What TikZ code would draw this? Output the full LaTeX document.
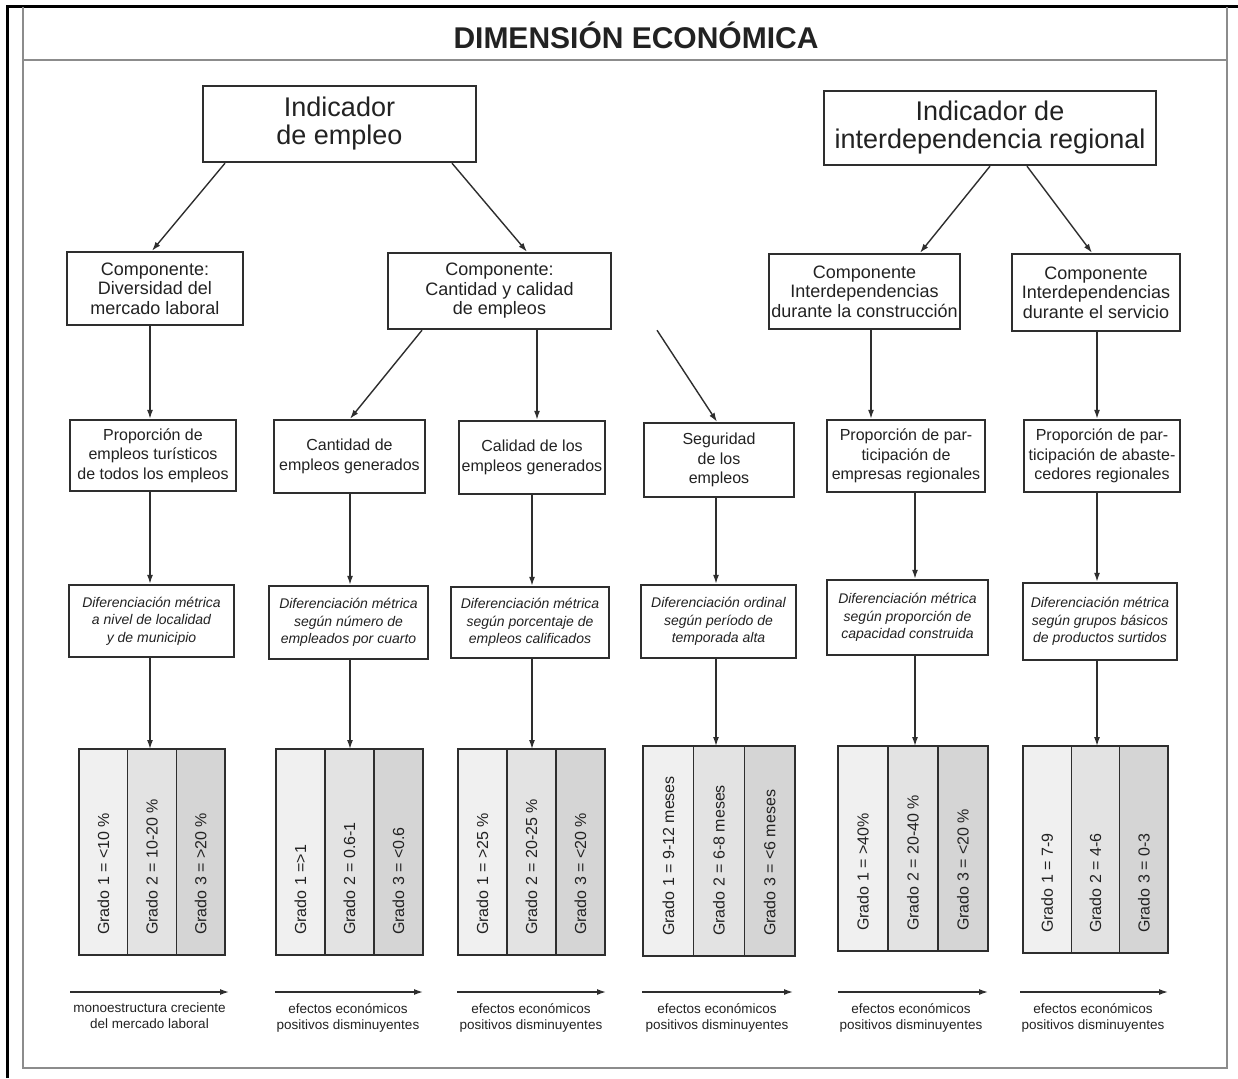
\documentclass[tikz,border=0pt]{standalone}
\usepackage{fontspec}
\setmainfont{Liberation Sans}
\usetikzlibrary{arrows.meta,calc}
\definecolor{ink}{HTML}{222222}
\definecolor{boxline}{HTML}{2E2E2E}
\definecolor{frameg}{HTML}{8C8C8C}
\definecolor{shA}{HTML}{F0F0F0}
\definecolor{shB}{HTML}{E3E3E3}
\definecolor{shC}{HTML}{D5D5D5}
\newcommand\gradeset[8]{%
  \pgfmathsetmacro\gcw{#4/3}%
  \node[gcol,fill=shA,minimum width=\gcw,minimum height=#5,anchor=north west] (#1a) at (#2,#3) {};
  \node[gcol,fill=shB,minimum width=\gcw,minimum height=#5,anchor=north west] (#1b) at (#1a.north east) {};
  \node[gcol,fill=shC,minimum width=\gcw,minimum height=#5,anchor=north west] (#1c) at (#1b.north east) {};
  \draw[gframe] (#1a.north west) rectangle (#1c.south east);
  \node[gtext] (#1ta) at ([yshift=20pt]#1a.south) {#6};
  \node[gtext] (#1tb) at ([yshift=20pt]#1b.south) {#7};
  \node[gtext] (#1tc) at ([yshift=20pt]#1c.south) {#8};
}
\begin{document}
\begin{tikzpicture}[x=1pt,y=-1pt,
  box/.style={draw=boxline,line width=2.4pt,fill=white,text=ink,align=center,inner sep=1pt},
  indbox/.style={box,font=\fontsize{27}{28}\selectfont},
  compbox/.style={box,font=\fontsize{18}{19.5}\selectfont},
  propbox/.style={box,font=\fontsize{16}{19.5}\selectfont},
  difbox/.style={box,font=\fontsize{14}{17.5}\selectfont\itshape},
  gcol/.style={draw=boxline,line width=1.3pt,inner sep=0pt,outer sep=0pt},
  gframe/.style={draw=boxline,line width=2pt},
  gtext/.style={rotate=90,anchor=west,font=\fontsize{16}{18}\selectfont,text=ink,inner sep=0pt},
  lab/.style={align=center,text=ink,font=\fontsize{13.5}{16}\selectfont,inner sep=1pt},
  arr/.style={draw=boxline,line width=1.4pt,-{Latex[length=9pt,width=6pt]}}
]
\useasboundingbox[fill=white] (0,0) rectangle (1238,1078);
% frame
\draw[black,line width=3pt] (7,1078) -- (7,7) -- (1238,7);
\draw[frameg,line width=2.5pt] (23,7) -- (23,1068) -- (1227,1068) -- (1227,7);
\draw[frameg,line width=2.5pt] (23,60) -- (1227,60);
\node[font=\fontsize{30}{32}\selectfont\bfseries,text=ink] (title) at (636,35) {DIMENSIÓN ECONÓMICA};

% column coordinates
\coordinate (x1) at (150,0);
\coordinate (x2) at (350,0);
\coordinate (x3a) at (537,0);
\coordinate (x3) at (532,0);
\coordinate (x4) at (716,0);
\coordinate (x5a) at (871,0);
\coordinate (x5) at (915,0);
\coordinate (x6) at (1097,0);

% indicators
\node[indbox,minimum width=273,minimum height=76] (IE) at (339.5,124) {Indicador\\de empleo};
\node[indbox,minimum width=332,minimum height=74] (IR) at (990,128) {Indicador de\\interdependencia regional};

% components
\node[compbox,minimum width=176,minimum height=73] (C1) at (155,288.5) {Componente:\\Diversidad del\\mercado laboral};
\node[compbox,minimum width=223,minimum height=76] (C2) at (499.5,291) {Componente:\\Cantidad y calidad\\de empleos};
\node[compbox,minimum width=191,minimum height=75] (C3) at (864.5,291.5) {Componente\\Interdependencias\\durante la construcción};
\node[compbox,minimum width=168,minimum height=77] (C4) at (1096,292.5) {Componente\\Interdependencias\\durante el servicio};

% proportions
\node[propbox,minimum width=166,minimum height=71] (P1) at (153,455.5) {Proporción de\\empleos turísticos\\de todos los empleos};
\node[propbox,minimum width=151,minimum height=73] (P2) at (349.5,456.5) {Cantidad de\\empleos generados};
\node[propbox,minimum width=146,minimum height=73] (P3) at (532,457.5) {Calidad de los\\empleos generados};
\node[propbox,minimum width=150,minimum height=74] (P4) at (719,460) {Seguridad\\de los\\empleos};
\node[propbox,minimum width=158,minimum height=72] (P5) at (906,456) {Proporción de par-\\ticipación de\\empresas regionales};
\node[propbox,minimum width=156,minimum height=72] (P6) at (1102,456) {Proporción de par-\\ticipación de abaste-\\cedores regionales};

% differentiation
\node[difbox,minimum width=165,minimum height=72] (D1) at (151.5,621) {Diferenciación métrica\\a nivel de localidad\\y de municipio};
\node[difbox,minimum width=159,minimum height=73] (D2) at (348.5,622.5) {Diferenciación métrica\\según número de\\empleados por cuarto};
\node[difbox,minimum width=158,minimum height=71] (D3) at (530,622.5) {Diferenciación métrica\\según porcentaje de\\empleos calificados};
\node[difbox,minimum width=155,minimum height=73] (D4) at (718.5,621.5) {Diferenciación ordinal\\según período de\\temporada alta};
\node[difbox,minimum width=161,minimum height=75] (D5) at (907.5,617.5) {Diferenciación métrica\\según proporción de\\capacidad construida};
\node[difbox,minimum width=154,minimum height=77] (D6) at (1100,621.5) {Diferenciación métrica\\según grupos básicos\\de productos surtidos};

% grade boxes
\gradeset{G1}{79}{749}{146}{206}{Grado 1 = <10 \%}{Grado 2 = 10-20 \%}{Grado 3 = >20 \%}
\gradeset{G2}{276}{749}{147}{206}{Grado 1 =>1}{Grado 2 = 0.6-1}{Grado 3 = <0.6}
\gradeset{G3}{458}{749}{147}{206}{Grado 1 = >25 \%}{Grado 2 = 20-25 \%}{Grado 3 = <20 \%}
\gradeset{G4}{643}{746}{152}{210}{Grado 1 = 9-12 meses}{Grado 2 = 6-8 meses}{Grado 3 = <6 meses}
\gradeset{G5}{838}{746}{150}{205}{Grado 1 = >40\%}{Grado 2 = 20-40 \%}{Grado 3 = <20 \%}
\gradeset{G6}{1023}{746}{145}{207}{Grado 1 = 7-9}{Grado 2 = 4-6}{Grado 3 = 0-3}

% connectors level 1 -> 2
\draw[arr] ([xshift=-114.5pt]IE.south) -- ([xshift=-3pt]C1.north);
\draw[arr] ([xshift=112.5pt]IE.south) -- ([xshift=27.5pt]C2.north);
\draw[arr] (IR.south) -- ([xshift=55.5pt]C3.north);
\draw[arr] ([xshift=37pt]IR.south) -- ([xshift=-4pt]C4.north);

% level 2 -> 3
\draw[arr] (C1.south -| x1) -- (P1.north -| x1);
\draw[arr] ([xshift=-77.5pt]C2.south) -- ([xshift=0.5pt]P2.north);
\draw[arr] (C2.south -| x3a) -- (P3.north -| x3a);
\draw[arr] ([xshift=157.5pt]C2.south) -- ([xshift=-2pt]P4.north);
\draw[arr] (C3.south -| x5a) -- (P5.north -| x5a);
\draw[arr] (C4.south -| x6) -- (P6.north -| x6);

% level 3 -> 4
\draw[arr] (P1.south -| x1) -- (D1.north -| x1);
\draw[arr] (P2.south -| x2) -- (D2.north -| x2);
\draw[arr] (P3.south -| x3) -- (D3.north -| x3);
\draw[arr] (P4.south -| x4) -- (D4.north -| x4);
\draw[arr] (P5.south -| x5) -- (D5.north -| x5);
\draw[arr] (P6.south -| x6) -- (D6.north -| x6);

% level 4 -> 5
\draw[arr] (D1.south -| x1) -- (G1b.north -| x1);
\draw[arr] (D2.south -| x2) -- (G2b.north -| x2);
\draw[arr] (D3.south -| x3) -- (G3b.north -| x3);
\draw[arr] (D4.south -| x4) -- (G4b.north -| x4);
\draw[arr] (D5.south -| x5) -- (G5b.north -| x5);
\draw[arr] (D6.south -| x6) -- (G6b.north -| x6);

% bottom arrows and labels
\coordinate (b1s) at (70,992);   \coordinate (b1e) at (229,992);
\coordinate (b2s) at (275,992);  \coordinate (b2e) at (423,992);
\coordinate (b3s) at (457,992);  \coordinate (b3e) at (606,992);
\coordinate (b4s) at (642,992);  \coordinate (b4e) at (793,992);
\coordinate (b5s) at (838,992);  \coordinate (b5e) at (988,992);
\coordinate (b6s) at (1020,992); \coordinate (b6e) at (1168,992);
\draw[arr] (b1s) -- (b1e);
\draw[arr] (b2s) -- (b2e);
\draw[arr] (b3s) -- (b3e);
\draw[arr] (b4s) -- (b4e);
\draw[arr] (b5s) -- (b5e);
\draw[arr] (b6s) -- (b6e);
\node[lab,anchor=north] (L1) at (149.5,1002) {monoestructura creciente\\del mercado laboral};
\node[lab,anchor=north] (L2) at (348,1002) {efectos económicos\\positivos disminuyentes};
\node[lab,anchor=north] (L3) at (531,1002) {efectos económicos\\positivos disminuyentes};
\node[lab,anchor=north] (L4) at (717,1002) {efectos económicos\\positivos disminuyentes};
\node[lab,anchor=north] (L5) at (911,1002) {efectos económicos\\positivos disminuyentes};
\node[lab,anchor=north] (L6) at (1093,1002) {efectos económicos\\positivos disminuyentes};
\end{tikzpicture}
\end{document}
